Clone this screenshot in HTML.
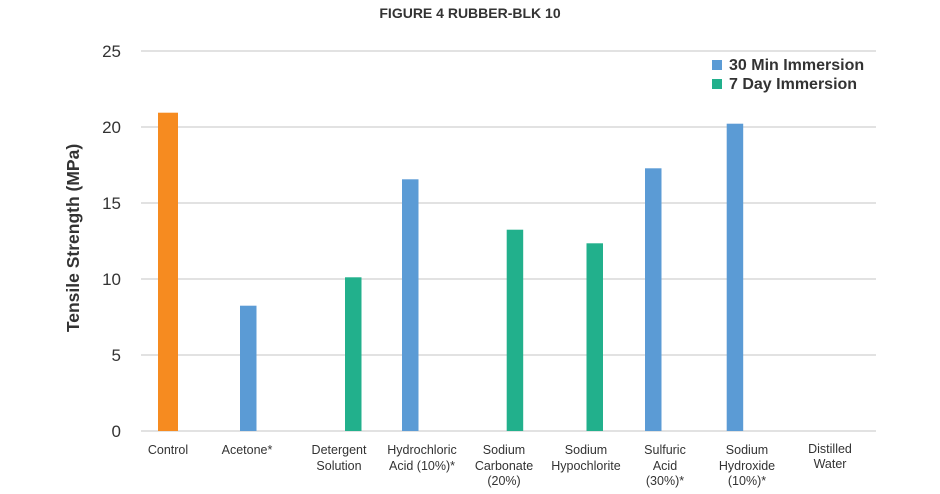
<!DOCTYPE html>
<html>
<head>
<meta charset="utf-8">
<style>
html,body{margin:0;padding:0;background:#fff;}
svg{display:block;}
text{font-family:"Liberation Sans",sans-serif;fill:#333;}
</style>
</head>
<body>
<svg width="940" height="494" viewBox="0 0 940 494" xmlns="http://www.w3.org/2000/svg">
  <!-- title -->
  <text x="470" y="18" font-size="14" font-weight="bold" text-anchor="middle" fill="#333">FIGURE 4 RUBBER-BLK 10</text>

  <!-- gridlines -->
  <g stroke="#d9d9d9" stroke-width="1.5">
    <line x1="141" y1="51" x2="876" y2="51"/>
    <line x1="141" y1="127" x2="876" y2="127"/>
    <line x1="141" y1="203" x2="876" y2="203"/>
    <line x1="141" y1="279" x2="876" y2="279"/>
    <line x1="141" y1="355" x2="876" y2="355"/>
    <line x1="141" y1="431" x2="876" y2="431"/>
  </g>

  <!-- y tick labels -->
  <g font-size="17" text-anchor="end">
    <text x="121" y="57">25</text>
    <text x="121" y="133">20</text>
    <text x="121" y="209">15</text>
    <text x="121" y="285">10</text>
    <text x="121" y="361">5</text>
    <text x="121" y="437">0</text>
  </g>

  <!-- y axis title -->
  <text x="0" y="0" font-size="17.5" font-weight="bold" text-anchor="middle" transform="translate(79,238) rotate(-90)">Tensile Strength (MPa)</text>

  <!-- bars -->
  <rect x="158" y="112.7" width="20" height="318.3" fill="#F68B20"/>
  <rect x="240" y="305.7" width="16.5" height="125.3" fill="#5B9BD5"/>
  <rect x="345" y="277.3" width="16.5" height="153.7" fill="#22B08C"/>
  <rect x="402" y="179.3" width="16.5" height="251.7" fill="#5B9BD5"/>
  <rect x="506.7" y="229.7" width="16.5" height="201.3" fill="#22B08C"/>
  <rect x="586.5" y="243.3" width="16.5" height="187.7" fill="#22B08C"/>
  <rect x="645" y="168.3" width="16.5" height="262.7" fill="#5B9BD5"/>
  <rect x="726.7" y="123.7" width="16.5" height="307.3" fill="#5B9BD5"/>

  <!-- x labels -->
  <g font-size="12.5" text-anchor="middle">
    <text x="168" y="454">Control</text>
    <text x="247" y="454">Acetone*</text>
    <text x="339" y="454">Detergent</text>
    <text x="339" y="470">Solution</text>
    <text x="422" y="454">Hydrochloric</text>
    <text x="422" y="470">Acid (10%)*</text>
    <text x="504" y="454">Sodium</text>
    <text x="504" y="470">Carbonate</text>
    <text x="504" y="485">(20%)</text>
    <text x="586" y="454">Sodium</text>
    <text x="586" y="470">Hypochlorite</text>
    <text x="665" y="454">Sulfuric</text>
    <text x="665" y="470">Acid</text>
    <text x="665" y="485">(30%)*</text>
    <text x="747" y="454">Sodium</text>
    <text x="747" y="470">Hydroxide</text>
    <text x="747" y="485">(10%)*</text>
    <text x="830" y="453">Distilled</text>
    <text x="830" y="468">Water</text>
  </g>

  <!-- legend -->
  <rect x="712" y="60" width="10" height="10" fill="#5B9BD5"/>
  <rect x="712" y="79" width="10" height="10" fill="#22B08C"/>
  <g font-size="16" font-weight="bold">
    <text x="729" y="70">30 Min Immersion</text>
    <text x="729" y="89">7 Day Immersion</text>
  </g>
</svg>
</body>
</html>
